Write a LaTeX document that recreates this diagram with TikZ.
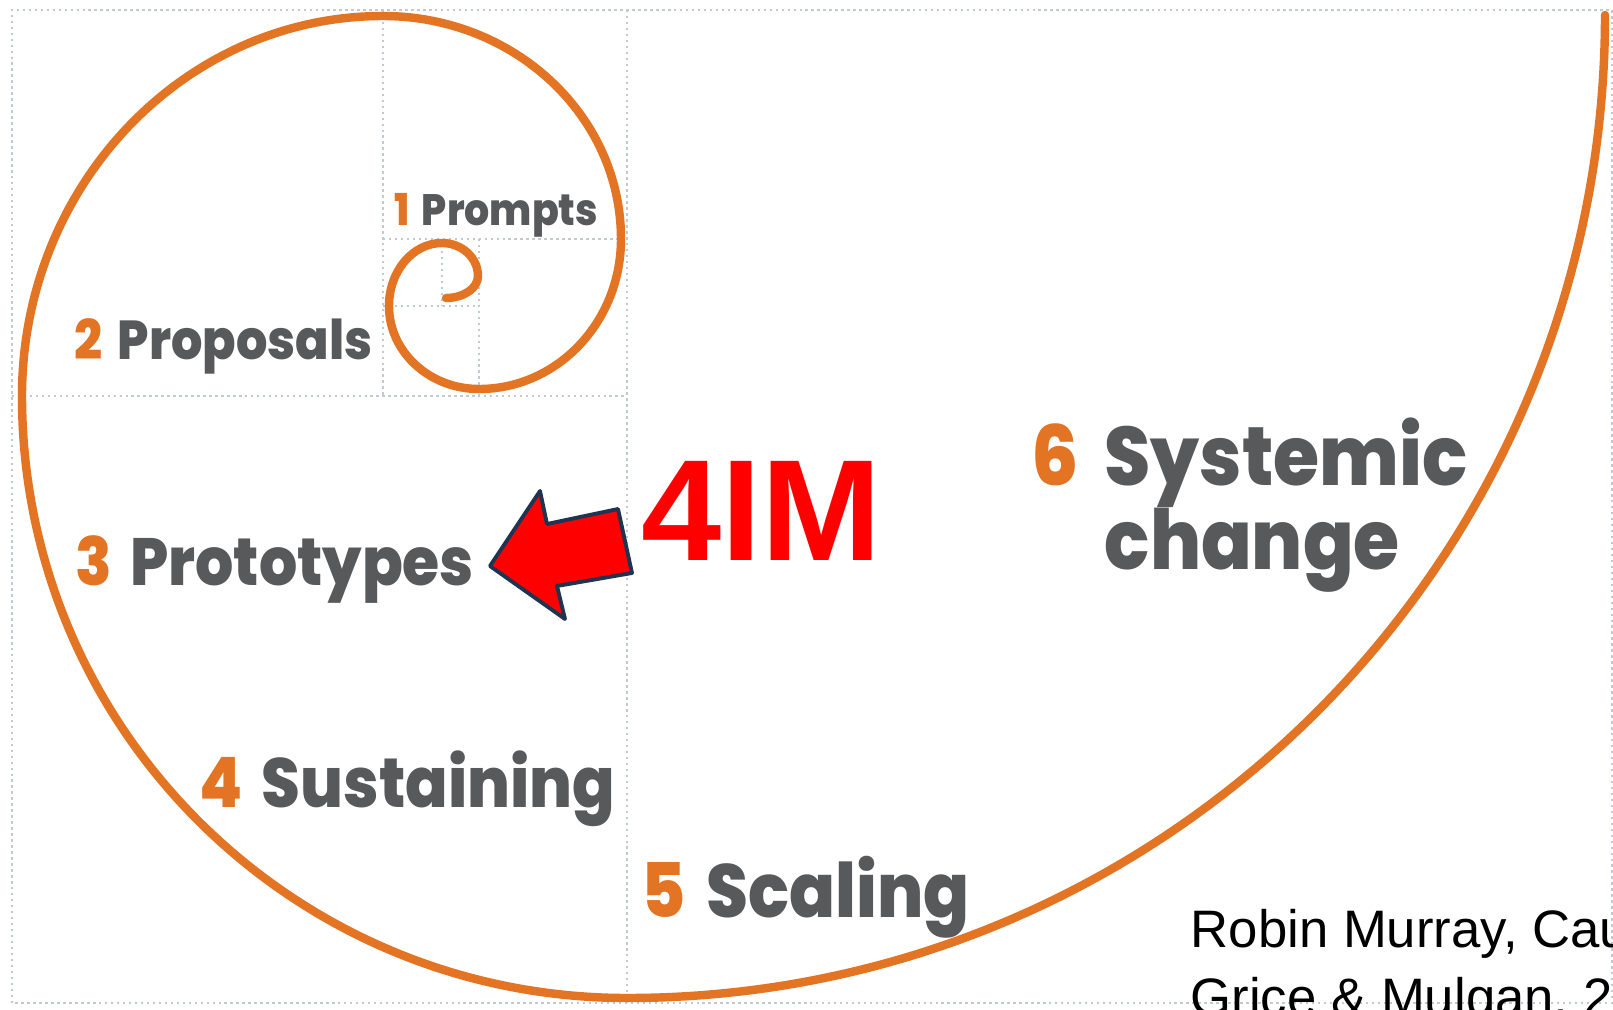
\documentclass[tikz,border=0pt]{standalone}
\usepackage{fontspec}
\usepackage{xcolor}
\usepackage{tikz}
\usetikzlibrary{positioning}
\setmainfont{Liberation Sans}
\newfontfamily\rotulofonte{Poppins}[BoldFont={* ExtraBold}, FakeStretch=0.90]
\definecolor{laranja}{HTML}{E27424}
\definecolor{cinza}{HTML}{58595B}
\definecolor{contorno}{HTML}{1F3451}
\definecolor{linhagrade}{HTML}{C2C9D2}

\begin{document}
\begin{tikzpicture}[
    grade/.style={densely dotted, line width=0.7pt, linhagrade},
    espiral/.style={line width=2.4pt, laranja, line cap=round},
    rotulo/.style={inner sep=0pt, anchor=base west, text=cinza},
    citacao/.style={inner sep=0pt, anchor=base west, font=\fontsize{15}{18}\selectfont}
]
    % Area do desenho
    \clip (0,0) rectangle (16.13,-10.10);
    \fill[white] (0,0) rectangle (16.13,-10.10);

    % Quadrados da grade
    \draw[grade] (0.12,-10.03) -- (0.12,-0.10) -- (16.12,-0.10) -- (16.12,-10.03) -- cycle;
    \draw[grade] (6.27,-0.10) -- (6.27,-10.03);
    \draw[grade] (0.12,-3.96) -- (6.27,-3.96);
    \draw[grade] (3.83,-0.10) -- (3.83,-3.96);
    \draw[grade] (3.83,-2.39) -- (6.27,-2.39);
    \draw[grade] (4.79,-2.39) -- (4.79,-3.96);
    \draw[grade] (3.83,-3.06) -- (4.79,-3.06);
    \draw[grade] (4.42,-2.39) -- (4.42,-3.06);

    % Espiral
    \draw[espiral] (16.05,-0.15)
        arc[start angle=0, end angle=-90, x radius=9.78, y radius=9.83]
        arc[start angle=-90, end angle=-180, x radius=6.05, y radius=6.02]
        arc[start angle=180, end angle=90, x radius=3.61, y radius=3.80]
        arc[start angle=90, end angle=0, x radius=2.38, y radius=2.23]
        arc[start angle=0, end angle=-90, x radius=1.42, y radius=1.50]
        arc[start angle=-90, end angle=-180, x radius=0.90, y radius=0.83]
        arc[start angle=180, end angle=90, x radius=0.53, y radius=0.63]
        arc[start angle=90, end angle=0, x radius=0.36, y radius=0.33]
        arc[start angle=0, end angle=-90, x radius=0.32, y radius=0.22];

    % Etapas
    \node[rotulo, font=\rotulofonte\bfseries\fontsize{12.5}{15}\selectfont] (prompts) at (3.94,-2.25) {\textcolor{laranja}{1} \hspace{0.1em}Prompts};
    \node[rotulo, font=\rotulofonte\bfseries\fontsize{15.6}{19}\selectfont] (proposals) at (0.74,-3.59) {\textcolor{laranja}{2} \hspace{0.1em}Proposals};
    \node[rotulo, font=\rotulofonte\bfseries\fontsize{19}{22}\selectfont] (prototypes) at (0.75,-5.85) {\textcolor{laranja}{3} \hspace{0.1em}Prototypes};
    \node[rotulo, font=\rotulofonte\bfseries\fontsize{19.8}{24}\selectfont] (sustaining) at (1.99,-8.07) {\textcolor{laranja}{4} \hspace{0.1em}Sustaining};
    \node[rotulo, font=\rotulofonte\bfseries\fontsize{21.4}{26}\selectfont] (scaling) at (6.41,-9.17) {\textcolor{laranja}{5} \hspace{0.1em}Scaling};
    \node[rotulo, font=\rotulofonte\bfseries\fontsize{23.6}{28}\selectfont, text=laranja] (seis) at (10.31,-4.85) {6};
    \node[rotulo, font=\rotulofonte\bfseries\fontsize{23.6}{28}\selectfont] (systemic) at (11.04,-4.85) {Systemic};
    \node[rotulo, font=\rotulofonte\bfseries\fontsize{23.6}{28}\selectfont] (change) at (11.04,-5.69) {change};

    % Seta e 4IM
    \filldraw[fill=red, draw=contorno, line width=1.1pt, line join=round]
        (4.90,-5.66) -- (5.40,-4.91) -- (5.47,-5.24) -- (6.18,-5.09) -- (6.32,-5.73)
        -- (5.57,-5.86) -- (5.65,-6.19) -- cycle;
    \node[inner sep=0pt, anchor=base west, text=red, font=\bfseries\fontsize{41}{46}\selectfont] (quatroim) at (6.41,-5.60) {4IM};

    % Referencia
    \node[citacao] (autores) at (11.90,-9.47) {Robin Murray, Cau};
    \node[citacao] (autores2) at (11.90,-10.15) {Grice \& Mulgan, 2};
\end{tikzpicture}
\end{document}
